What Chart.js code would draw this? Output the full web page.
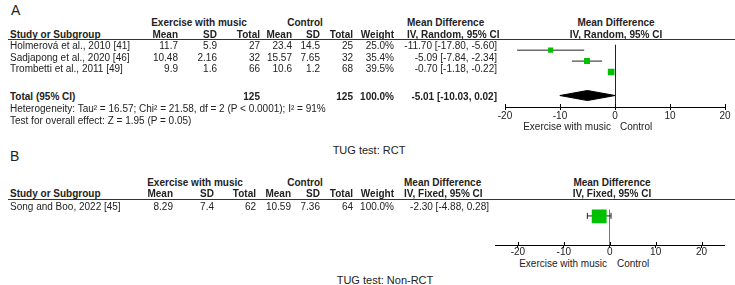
<!DOCTYPE html>
<html>
<head>
<meta charset="utf-8">
<script src="https://cdn.jsdelivr.net/npm/chart.js@4.4.1/dist/chart.umd.min.js"></script>
<style>
  body { margin: 0; background: #fff; }
  #page { position: relative; width: 735px; height: 285px; overflow: hidden;
          font-family: "Liberation Sans", Arial, sans-serif; font-size: 10px; color: #222; }
  .t { position: absolute; white-space: nowrap; line-height: 12px; height: 12px; }
  .b { font-weight: bold; }
  .big { font-size: 14px; line-height: 16px; height: 16px; }
  .cap { font-size: 11px; }
  .rule { position: absolute; height: 1px; background: #333; }
  canvas { position: absolute; }
</style>
</head>
<body>
<div id="page">
  <canvas id="plotA" width="250" height="82" style="left:485px; top:40px;"></canvas>
  <canvas id="plotB" width="260" height="57" style="left:475px; top:199px;"></canvas>
</div>
<script>
// Panel A: RCT, random effects
const studiesA = ["Holmerová et al., 2010 [41]", "Sadjapong et al., 2020 [46]", "Trombetti et al., 2011 [49]"];
const expMeanA = [11.7, 10.48, 9.9];
const expSdA = [5.9, 2.16, 1.6];
const expNA = [27, 32, 66];
const ctlMeanA = [23.4, 15.57, 10.6];
const ctlSdA = [14.5, 7.65, 1.2];
const ctlNA = [25, 32, 68];
const weightA = [25.0, 35.4, 39.5];
const mdA = [-11.70, -5.09, -0.70];
const loA = [-17.80, -7.84, -1.18];
const hiA = [-5.60, -2.34, -0.22];
const totalA = { expN: 125, ctlN: 125, weight: 100.0, md: -5.01, lo: -10.03, hi: 0.02 };
const hetA = "Heterogeneity: Tau\u00b2 = 16.57; Chi\u00b2 = 21.58, df = 2 (P < 0.0001); I\u00b2 = 91%";
const effA = "Test for overall effect: Z = 1.95 (P = 0.05)";

// Panel B: non-RCT, fixed effect
const studiesB = ["Song and Boo, 2022 [45]"];
const expMeanB = [8.29];
const expSdB = [7.4];
const expNB = [62];
const ctlMeanB = [10.59];
const ctlSdB = [7.36];
const ctlNB = [64];
const weightB = [100.0];
const mdB = [-2.30];
const loB = [-4.88];
const hiB = [0.28];

const xTicks = [-20, -10, 0, 10, 20];

const page = document.getElementById("page");

function put(txt, x, y, align, cls) {
  const d = document.createElement("div");
  d.className = "t " + (cls || "");
  d.textContent = txt;
  d.style.top = (y - parseFloat(getComputedStyle(page).fontSize) * 0 - 6) + "px";
  if (align === "r") d.style.right = (735 - x) + "px";
  else if (align === "c") { d.style.left = x + "px"; d.style.transform = "translateX(-50%)"; }
  else d.style.left = x + "px";
  page.appendChild(d);
  return d;
}
function rule(x1, x2, y) {
  const d = document.createElement("div");
  d.className = "rule";
  d.style.left = x1 + "px"; d.style.width = (x2 - x1) + "px"; d.style.top = y + "px";
  page.appendChild(d);
}
const ci = (m, l, h) => `${m.toFixed(2)} [${l.toFixed(2)}, ${h.toFixed(2)}]`;

function table(p) {
  put(p.letter, p.letterX, p.letterY, "l", "big");
  put("Exercise with music", p.h1E, p.h1Y, "c", "b");
  put("Control", p.h1C, p.h1Y, "c", "b");
  put("Mean Difference", p.ciL, p.h1Y, "l", "b");
  put("Mean Difference", p.plotC, p.h1Y, "c", "b");
  const heads = ["Mean", "SD", "Total", "Mean", "SD", "Total", "Weight"];
  put("Study or Subgroup", 10, p.h2Y, "l", "b");
  heads.forEach((h, i) => put(h, p.cols[i], p.h2Y, "r", "b"));
  put(p.method, p.ciL, p.h2Y, "l", "b");
  put(p.method, p.plotC, p.h2Y, "c", "b");
  rule(8, 735, p.ruleY);
  p.studies.forEach((s, i) => {
    const y = p.rowY[i];
    put(s, 10, y, "l");
    const vals = [p.em[i], p.es[i], p.en[i], p.cm[i], p.cs[i], p.cn[i], p.w[i].toFixed(1) + "%"];
    vals.forEach((v, j) => put(String(v), p.cols[j], y, "r"));
    put(ci(p.md[i], p.lo[i], p.hi[i]), p.cols[7], y, "r");
  });
  put("Exercise with music", p.axLabE, p.axLabY, "r");
  put("Control", p.axLabC, p.axLabY, "l");
}

table({
  letter: "A", letterX: 11, letterY: 8, h1Y: 23, h2Y: 34.5, ruleY: 39, h1E: 199, h1C: 305, plotC: 616,
  ciL: 407, method: "IV, Random, 95% CI", cols: [178, 217, 260, 292, 320, 353, 394, 497],
  studies: studiesA, em: expMeanA, es: expSdA, en: expNA, cm: ctlMeanA, cs: ctlSdA, cn: ctlNA,
  w: weightA, md: mdA, lo: loA, hi: hiA, rowY: [46, 57.5, 69],
  axLabE: 611, axLabC: 620, axLabY: 127
});
put("Total (95% CI)", 10, 97, "l", "b");
put(String(totalA.expN), 260, 97, "r", "b");
put(String(totalA.ctlN), 353, 97, "r", "b");
put(totalA.weight.toFixed(1) + "%", 394, 97, "r", "b");
put(ci(totalA.md, totalA.lo, totalA.hi), 497, 97, "r", "b");
put(hetA, 10, 109, "l");
put(effA, 10, 121, "l");
put("TUG test: RCT", 369, 150, "c", "cap");

table({
  letter: "B", letterX: 10, letterY: 154, h1Y: 182.5, h2Y: 194, ruleY: 199, h1E: 195, h1C: 305, plotC: 612,
  ciL: 404, method: "IV, Fixed, 95% CI", cols: [173, 214, 256, 291, 320, 353, 394, 489],
  studies: studiesB, em: expMeanB, es: expSdB, en: expNB, cm: ctlMeanB, cs: ctlSdB, cn: ctlNB,
  w: weightB, md: mdB, lo: loB, hi: hiB, rowY: [207],
  axLabE: 607, axLabC: 617, axLabY: 263.5
});
put("TUG test: Non-RCT", 385, 280, "c", "cap");

// extend tick marks above the axis line
const crossTicks = {
  id: "crossTicks",
  afterDraw(chart) {
    const sx = chart.scales.x, ctx = chart.ctx, y = chart.chartArea.bottom;
    ctx.save();
    ctx.strokeStyle = "#000";
    ctx.lineWidth = 1;
    sx.ticks.forEach(t => {
      const px = Math.round(sx.getPixelForValue(t.value)) + 0.5;
      ctx.beginPath(); ctx.moveTo(px, y - 3); ctx.lineTo(px, y); ctx.stroke();
    });
    ctx.restore();
  }
};

function forest(id, o) {
  const datasets = [];
  o.md.forEach((m, i) => {
    datasets.push({
      data: [{ x: o.lo[i], y: o.rows[i] }, { x: o.hi[i], y: o.rows[i] }],
      showLine: true, borderColor: "#222", borderWidth: 1, pointRadius: 0, order: 2
    });
    if (o.caps) {
      datasets.push({
        data: [{ x: o.lo[i], y: o.rows[i] }, { x: o.hi[i], y: o.rows[i] }],
        pointStyle: "line", rotation: 90, pointRadius: 3, borderColor: "#222", borderWidth: 1, order: 2
      });
    }
  });
  datasets.push({
    data: o.md.map((m, i) => ({ x: m, y: o.rows[i] })),
    pointStyle: "rect", pointRadius: o.sizes, backgroundColor: "#00c000", borderWidth: 0, order: 0
  });
  if (o.total) {
    const t = o.total, r = o.totalRow, h = o.diamondHalf;
    datasets.push({
      data: [{ x: t.lo, y: r }, { x: t.md, y: r - h }, { x: t.hi, y: r }, { x: t.md, y: r + h }, { x: t.lo, y: r }],
      showLine: true, fill: "shape", backgroundColor: "#000", borderColor: "#000", borderWidth: 1,
      pointRadius: 0, order: 1
    });
  }
  new Chart(document.getElementById(id), {
    type: "scatter",
    data: { datasets },
    options: {
      responsive: false,
      animation: false,
      events: [],
      layout: { padding: o.padding },
      plugins: { legend: { display: false }, tooltip: { enabled: false } },
      scales: {
        x: {
          type: "linear", min: o.xMin, max: o.xMax,
          afterBuildTicks: s => { s.ticks = xTicks.map(v => ({ value: v })); },
          ticks: { color: "#222", padding: o.tickPad, font: { family: "Liberation Sans", size: 10 } },
          grid: {
            drawOnChartArea: true, drawTicks: true, tickLength: 3, tickColor: "#000",
            color: c => (c.tick && c.tick.value === 0 ? o.zeroColor : "rgba(0,0,0,0)")
          },
          border: { display: true, color: "#000", width: 1 }
        },
        y: { type: "linear", display: false, reverse: true, min: 0, max: o.yMax }
      }
    },
    plugins: [crossTicks]
  });
}

forest("plotA", {
  md: mdA, lo: loA, hi: hiA, rows: [0.5, 1.5, 2.5], sizes: [3.6, 4.2, 4.7],
  total: totalA, totalRow: 4.65, diamondHalf: 0.46, yMax: 5.7,
  xMin: -20, xMax: 20, padding: { left: 20, right: 10, top: 0, bottom: 0 },
  tickPad: 0, zeroColor: "#222", caps: false
});
forest("plotB", {
  md: mdB, lo: loB, hi: hiB, rows: [0.68], sizes: [10.5],
  yMax: 3.75, xMin: -25, xMax: 25, padding: { left: 20, right: 6, top: 0, bottom: 0 },
  tickPad: -2, zeroColor: "#777", caps: true
});
</script>
</body>
</html>
